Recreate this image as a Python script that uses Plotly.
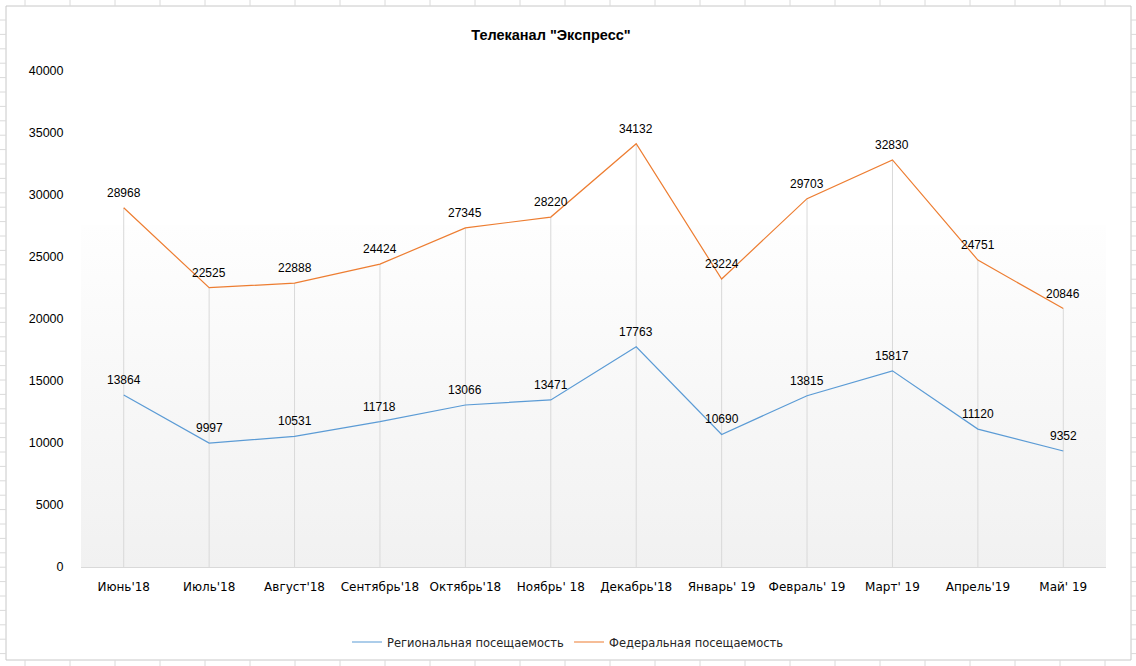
import base64
import plotly.graph_objects as go

# ---- data ----
categories = ["Июнь'18", "Июль'18", "Август'18", "Сентябрь'18", "Октябрь'18", "Ноябрь' 18",
              "Декабрь'18", "Январь' 19", "Февраль' 19", "Март' 19", "Апрель'19", "Май' 19"]
regional = [13864, 9997, 10531, 11718, 13066, 13471, 17763, 10690, 13815, 15817, 11120, 9352]
federal = [28968, 22525, 22888, 24424, 27345, 28220, 34132, 23224, 29703, 32830, 24751, 20846]
y_ticks = [0, 5000, 10000, 15000, 20000, 25000, 30000, 35000, 40000]
series_names = ["Региональная посещаемость", "Федеральная посещаемость"]

W, H = 1136, 666
ML, MR, MT, MB = 81, 30, 71, 99
PW = W - ML - MR
PH = H - MT - MB
FONT = "Liberation Sans"
FONT2 = "DejaVu Sans"

x_idx = list(range(len(categories)))

fig = go.Figure()

# drop lines from the upper series down to the axis
fig.add_trace(go.Scatter(
    x=x_idx, y=federal, mode="markers", marker=dict(size=1, opacity=0),
    error_y=dict(type="data", symmetric=False, array=[0] * len(federal), arrayminus=federal,
                 color="#d9d9d9", thickness=1, width=0),
    hoverinfo="skip", showlegend=False))

fig.add_trace(go.Scatter(
    x=x_idx, y=regional, mode="lines", name=series_names[0],
    line=dict(color="#5B9BD5", width=1.2)))
fig.add_trace(go.Scatter(
    x=x_idx, y=federal, mode="lines", name=series_names[1],
    line=dict(color="#ED7D31", width=1.2)))

annotations = []
for series in (regional, federal):
    for i, v in zip(x_idx, series):
        annotations.append(dict(x=i, y=v, text=str(v), showarrow=False, yshift=15,
                                font=dict(family=FONT, size=12, color="#000000")))

# gradient background for plot area
svg = ('<svg xmlns="http://www.w3.org/2000/svg" width="100" height="100" preserveAspectRatio="none">'
       '<defs><linearGradient id="g" x1="0" y1="0" x2="0" y2="1">'
       '<stop offset="0" stop-color="#fefefe"/><stop offset="1" stop-color="#f1f1f1"/>'
       '</linearGradient></defs><rect width="100" height="100" fill="url(#g)"/></svg>')
src = "data:image/svg+xml;base64," + base64.b64encode(svg.encode()).decode()
grad_top = (567 - 225) / PH
images = [dict(source=src, xref="paper", yref="paper", x=0, y=grad_top, sizex=1, sizey=grad_top,
               sizing="stretch", xanchor="left", yanchor="top", layer="below")]

# spreadsheet grid around the chart (pixel -> paper conversion)
def px(xp):
    return (xp - ML) / PW

def py(yp):
    return (H - MB - yp) / PH

shapes = []
grid_col = "#dadada"
shapes.append(dict(type="rect", xref="paper", yref="paper", x0=px(6), x1=px(1131), y0=py(6), y1=py(660),
                   line=dict(color="#c8c8c8", width=1), layer="below"))
xg = 25
while xg < W:
    if xg > 6:
        shapes.append(dict(type="line", xref="paper", yref="paper", x0=px(xg), x1=px(xg), y0=py(0), y1=py(6),
                           line=dict(color=grid_col, width=1)))
        shapes.append(dict(type="line", xref="paper", yref="paper", x0=px(xg), x1=px(xg), y0=py(660), y1=py(666),
                           line=dict(color=grid_col, width=1)))
    xg += 45
yg = 20
while yg < H:
    shapes.append(dict(type="line", xref="paper", yref="paper", x0=px(0), x1=px(6), y0=py(yg), y1=py(yg),
                       line=dict(color=grid_col, width=1)))
    shapes.append(dict(type="line", xref="paper", yref="paper", x0=px(1131), x1=px(1136), y0=py(yg), y1=py(yg),
                       line=dict(color=grid_col, width=1)))
    yg += 14.4

fig.update_layout(
    width=W, height=H,
    margin=dict(l=ML, r=MR, t=MT, b=MB),
    paper_bgcolor="white", plot_bgcolor="rgba(0,0,0,0)",
    font=dict(family=FONT, size=12, color="#000000"),
    title=dict(text='<b>Телеканал "Экспресс"</b>', xref="container", yref="container",
               x=551 / W, y=1 - 35 / H, xanchor="center", yanchor="middle",
               font=dict(family=FONT, size=14.5, color="#000000")),
    xaxis=dict(range=[-0.5, len(categories) - 0.5], tickvals=x_idx, ticktext=categories,
               showgrid=False, zeroline=False, showline=True, linecolor="#d9d9d9", linewidth=1,
               ticks="outside", ticklen=9, tickcolor="rgba(0,0,0,0)",
               tickfont=dict(family=FONT2, size=12, color="#000000")),
    yaxis=dict(range=[0, 40000], tickvals=y_ticks, ticktext=[str(v) for v in y_ticks],
               showgrid=False, zeroline=False, showline=False,
               ticks="outside", ticklen=14, tickcolor="rgba(0,0,0,0)",
               tickfont=dict(family=FONT, size=12.5, color="#000000")),
    legend=dict(orientation="h", xref="container", yref="container", x=568 / W, y=1 - 642 / H,
                xanchor="center", yanchor="middle", font=dict(family=FONT2, size=11.5, color="#262626"),
                itemwidth=30, tracegroupgap=0),
    annotations=annotations,
    images=images,
    shapes=shapes,
    showlegend=True,
    hovermode=False,
)

fig.write_html("out.html", config={"displayModeBar": False},
               post_script="document.body.style.margin='0';document.body.style.overflow='hidden';")
